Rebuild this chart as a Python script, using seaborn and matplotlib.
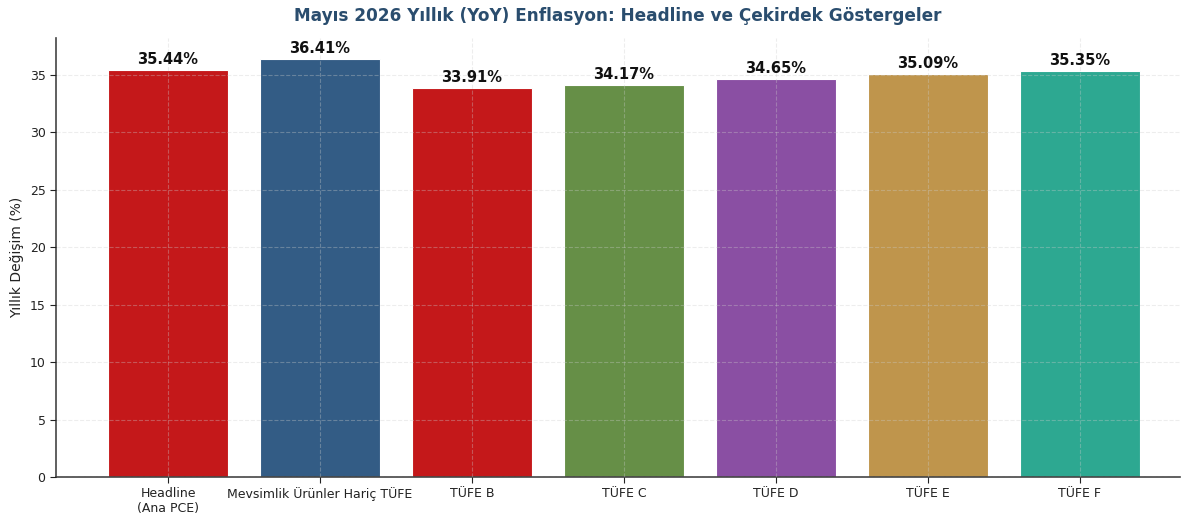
import matplotlib
matplotlib.use("Agg")
import matplotlib.pyplot as plt
import seaborn as sns
import pandas as pd

categories = ["Headline\n(Ana PCE)", "Mevsimlik Ürünler Hariç TÜFE", "TÜFE B", "TÜFE C", "TÜFE D", "TÜFE E", "TÜFE F"]
values = [35.44, 36.41, 33.91, 34.17, 34.65, 35.09, 35.35]
colors = ["#c4181a", "#335c85", "#c4181a", "#668f47", "#8a4fa3", "#bf954c", "#2da891"]

sns.set_style("white")
plt.rcParams['font.family'] = ['DejaVu Sans']

df = pd.DataFrame({"cat": categories, "val": values})
fig = plt.figure(figsize=(11.82, 5.19), dpi=100)
ax = fig.add_axes([0.0474, 0.081, 0.951, 0.846])
sns.barplot(data=df, x="cat", y="val", hue="cat", palette=colors, legend=False,
            width=0.79, edgecolor="white", linewidth=0.8, saturation=1, ax=ax)
ax.set_axisbelow(False)
ax.grid(True, linestyle="--", color="#cccccc", alpha=0.35, linewidth=0.8)
for i, v in enumerate(values):
    ax.text(i, v + 0.25, f"{v:.2f}%", ha="center", va="bottom", fontsize=10.5, fontweight="bold", color="#111111")
ax.set_ylim(0, 38.23)
ax.set_xlim(-0.737, 6.66)
ax.set_xlabel("")
ax.set_ylabel("Yıllık Değişim (%)", fontsize=10, color="#222222")
ax.tick_params(axis="both", labelsize=9, colors="#222222", length=4, left=True, bottom=True)
for s in ["top", "right"]:
    ax.spines[s].set_visible(False)
for s in ["left", "bottom"]:
    ax.spines[s].set_color("#444444")
    ax.spines[s].set_linewidth(1.2)
ax.set_title("Mayıs 2026 Yıllık (YoY) Enflasyon: Headline ve Çekirdek Göstergeler",
             fontsize=12.2, fontweight="bold", color="#2a4d6e", pad=12)
fig.savefig("out.png", dpi=100)
